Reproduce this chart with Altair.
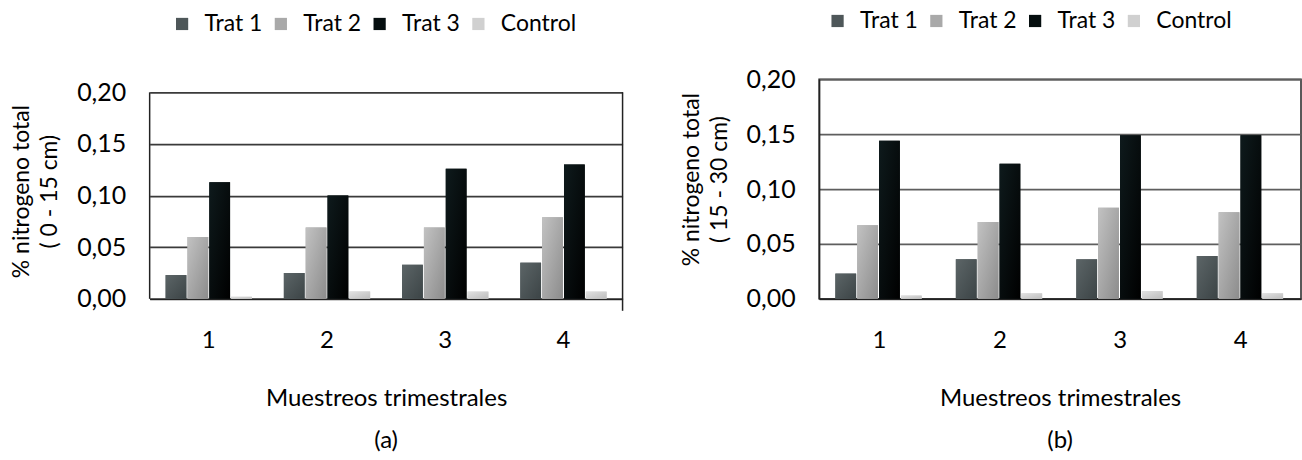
import altair as alt
import pandas as pd

muestreos = ["1", "2", "3", "4"]
series = ["Trat 1", "Trat 2", "Trat 3", "Control"]
colores = ["#4e5759", "#a9a9a9", "#050e0f", "#d0d0d0"]
grad_claro = ["#5c6567", "#c2c2c2", "#0e1a1c", "#e2e2e2"]
grad_oscuro = ["#3c4446", "#8c8c8c", "#000000", "#bdbdbd"]

a_trat1 = [0.023, 0.025, 0.033, 0.035]
a_trat2 = [0.060, 0.069, 0.069, 0.079]
a_trat3 = [0.113, 0.100, 0.126, 0.130]
a_control = [0.002, 0.007, 0.007, 0.007]

b_trat1 = [0.023, 0.036, 0.036, 0.039]
b_trat2 = [0.067, 0.070, 0.083, 0.079]
b_trat3 = [0.144, 0.123, 0.149, 0.149]
b_control = [0.003, 0.005, 0.007, 0.005]

y_ticks = [0, 0.05, 0.10, 0.15, 0.20]
FONT = "Lato"
H = 220


def make_df(vals):
    rows = []
    for s, v in zip(series, vals):
        for m, x in zip(muestreos, v):
            rows.append({"muestreo": m, "serie": s, "valor": x})
    return pd.DataFrame(rows)


def panel(df, ytitle, label, width, ymax, title_y, legend_x, legend_y, framed, grid_color):
    x_enc = alt.X("muestreo:N", sort=muestreos,
                  scale=alt.Scale(paddingInner=0.27, paddingOuter=0.135),
                  axis=alt.Axis(title="Muestreos trimestrales", labelAngle=0, ticks=False,
                                tickSize=0, labelPadding=30, titlePadding=34,
                                labelFontSize=24, titleFontSize=24, titleFontWeight="normal",
                                labelFont=FONT, titleFont=FONT, labelColor="#000", titleColor="#000",
                                domainColor="#222", domainWidth=1.5))
    xo_enc = alt.XOffset("serie:N", sort=series, scale=alt.Scale(domain=series, paddingInner=0.05))
    y_enc = alt.Y("valor:Q", scale=alt.Scale(domain=[0, ymax], nice=False),
                  axis=alt.Axis(title=ytitle, values=y_ticks,
                                labelExpr="replace(format(datum.value, '.2f'), '.', ',')",
                                ticks=False, tickSize=0, labelPadding=24, titlePadding=15,
                                labelFontSize=25, titleFontSize=23, titleFontWeight="normal",
                                labelFont=FONT, titleFont=FONT, labelColor="#000", titleColor="#000",
                                titleLineHeight=28, titleY=title_y,
                                grid=True, gridColor=grid_color, gridWidth=1.8,
                                domain=framed, domainColor="#222", domainWidth=1.5))
    base = alt.Chart(df).mark_bar().encode(
        x=x_enc, xOffset=xo_enc, y=y_enc,
        color=alt.Color("serie:N", sort=series,
                        scale=alt.Scale(domain=series, range=colores),
                        legend=alt.Legend(title=None, orient="none", direction="horizontal",
                                          columns=4, gridAlign="none",
                                          legendX=legend_x, legendY=legend_y,
                                          symbolType="square", symbolSize=150,
                                          symbolStrokeWidth=0, labelFontSize=23, labelFont=FONT,
                                          labelColor="#000", labelOffset=11, columnPadding=7)),
    )
    layers = [base]
    for s, c1, c2 in zip(series, grad_claro, grad_oscuro):
        g = alt.Gradient(gradient="linear",
                         stops=[alt.GradientStop(color=c1, offset=0),
                                alt.GradientStop(color=c2, offset=1)],
                         x1=0, y1=0, x2=1, y2=1)
        layers.append(
            alt.Chart(df).transform_filter(alt.datum.serie == s).mark_bar(fill=g).encode(
                x=alt.X("muestreo:N", sort=muestreos), xOffset=alt.XOffset("serie:N", sort=series),
                y=alt.Y("valor:Q"))
        )
    props = dict(width=width, height=H,
                 title=alt.TitleParams(label, orient="bottom", fontSize=24, font=FONT,
                                       fontWeight="normal", color="#000", offset=19))
    if not framed:
        # frame drawn over the 0-0.20 range only (the plot box is shorter than the panel)
        layers.append(alt.Chart(df.head(1)).mark_rule(color="#222", strokeWidth=1.5).encode(
            x=alt.value(0), y=alt.datum(0.2), y2=alt.datum(0)))
        layers.append(alt.Chart(df.head(1)).mark_rule(color="#222", strokeWidth=1.5).encode(
            x=alt.value(width), y=alt.datum(0.2), y2=alt.value(H + 12)))
        props["view"] = alt.ViewBackground(stroke=None)
    else:
        props["view"] = alt.ViewBackground(stroke="#222", strokeWidth=1.5)
    return alt.layer(*layers).properties(**props)


pa = panel(make_df([a_trat1, a_trat2, a_trat3, a_control]),
           ["% nitrogeno total", "( 0 - 15 cm)"], "(a)", 474, 0.2 * H / 207, 112, 21, -67,
           False, "#3a3a3a")
pb = panel(make_df([b_trat1, b_trat2, b_trat3, b_control]),
           ["% nitrogeno total", "( 15 - 30 cm)"], "(b)", 483, 0.2, 100, 7, -70,
           True, "#5e5e5e")

chart = alt.hconcat(pa, pb, spacing=56).resolve_scale(color="independent").resolve_legend(
    color="independent").properties(
    padding={"left": 10, "top": 8, "right": 0, "bottom": 0}
).configure(background="white")

chart.save("out.html", embed_options={"renderer": "svg", "actions": False})
